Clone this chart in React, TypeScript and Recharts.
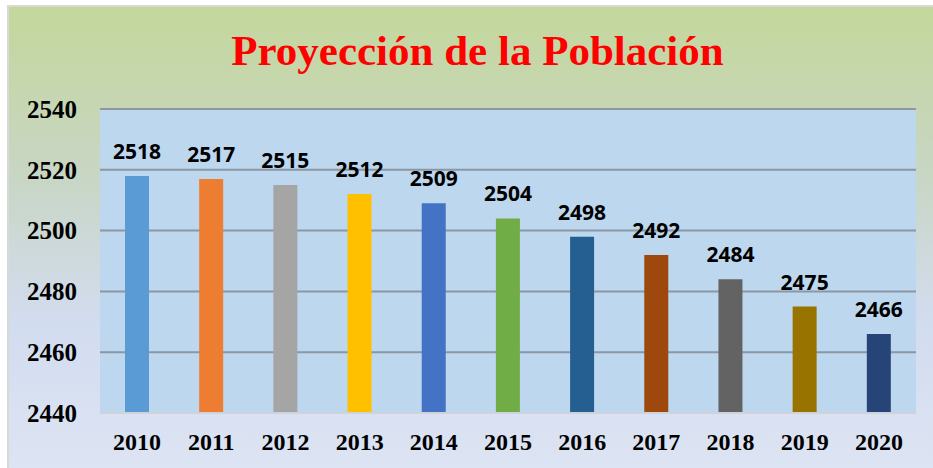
import React from "react";
import { BarChart, Bar, XAxis, YAxis, CartesianGrid, LabelList, Cell } from "recharts";

const years = ["2010", "2011", "2012", "2013", "2014", "2015", "2016", "2017", "2018", "2019", "2020"];
const population = [2518, 2517, 2515, 2512, 2509, 2504, 2498, 2492, 2484, 2475, 2466];
const barColors = [
  "#5B9BD5", "#ED7D31", "#A5A5A5", "#FFC000", "#4472C4", "#70AD47",
  "#255E91", "#9E480E", "#636363", "#997300", "#264478",
];
const yTicks = [2440, 2460, 2480, 2500, 2520, 2540];

const data = years.map((year, i) => ({ year, value: population[i] }));

const serif = "'Liberation Serif', 'Times New Roman', serif";

const App: React.FC = () => {
  return (
    <div
      style={{
        position: "absolute",
        left: 0,
        top: 0,
        width: 933,
        height: 468,
        overflow: "hidden",
        background: "#ffffff",
      }}
    >
      <div
        style={{
          position: "absolute",
          left: 7,
          top: 5,
          width: 940,
          height: 480,
          border: "2px solid #d9d9d9",
          background: "linear-gradient(to bottom, #C4D79B 0%, #C8D6C4 35%, #D2DCEF 65%, #DEE5F4 100%)",
        }}
      />
      <div
        style={{
          position: "absolute",
          left: 0,
          top: 26,
          width: 955,
          textAlign: "center",
          fontFamily: serif,
          fontWeight: "bold",
          fontSize: 43,
          color: "#FF0000",
        }}
      >
        Proyección de la Población
      </div>
      <div style={{ position: "absolute", left: 0, top: 0 }}>
        <BarChart
          width={933}
          height={468}
          data={data}
          margin={{ top: 109, right: 17, bottom: 0, left: 10 }}
        >
          <CartesianGrid vertical={false} stroke="#8C97A3" strokeWidth={2} fill="#BDD7EE" />
          <XAxis
            dataKey="year"
            height={55}
            axisLine={{ stroke: "#D0D4DA", strokeWidth: 2 }}
            tickLine={false}
            tickSize={0}
            tickMargin={20}
            tick={{ fill: "#000000", fontFamily: serif, fontWeight: "bold", fontSize: 24 }}
          />
          <YAxis
            width={90}
            domain={[2440, 2540]}
            ticks={yTicks}
            axisLine={false}
            tickLine={false}
            tickSize={0}
            tickMargin={23}
            tick={{ fill: "#000000", fontFamily: serif, fontWeight: "bold", fontSize: 25 }}
          />
          <Bar dataKey="value" barSize={24} isAnimationActive={false}>
            {data.map((d, i) => (
              <Cell key={d.year} fill={barColors[i]} />
            ))}
            <LabelList
              dataKey="value"
              position="top"
              offset={17}
              fill="#000000"
              style={{ fontFamily: "'Open Sans', sans-serif", fontWeight: "bold", fontSize: 21 }}
            />
          </Bar>
        </BarChart>
      </div>
    </div>
  );
};

export default App;
